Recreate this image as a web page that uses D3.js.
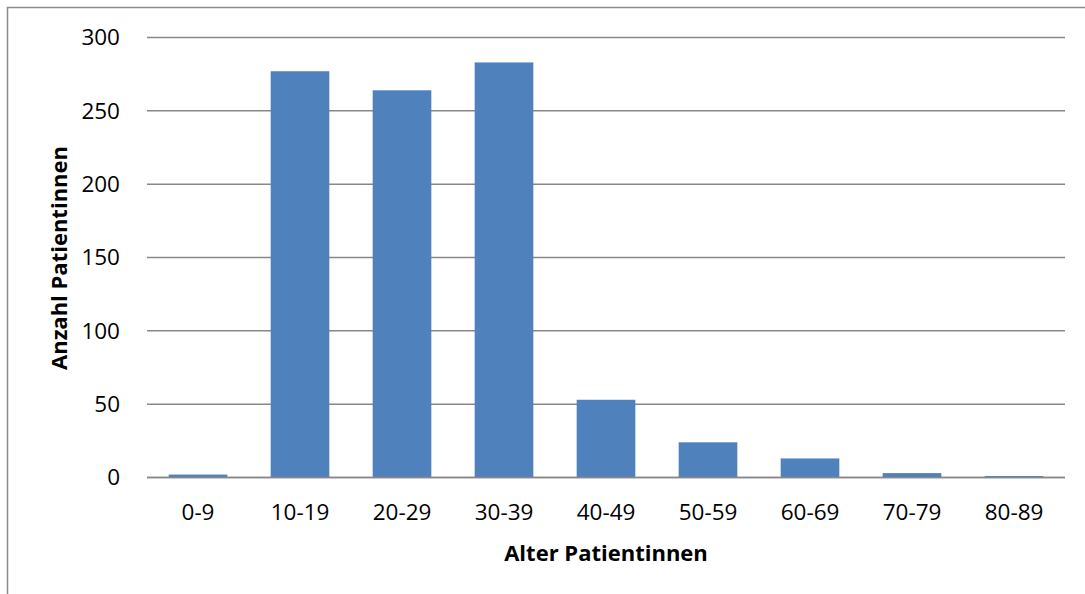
<!DOCTYPE html>
<html>
<head>
<meta charset="utf-8">
<script src="https://cdn.jsdelivr.net/npm/d3@7/dist/d3.min.js"></script>
<style>
  html, body { margin: 0; padding: 0; background: #fff; }
  svg { display: block; }
  text { font-family: "Open Sans", "Liberation Sans", sans-serif; fill: #000; }
</style>
</head>
<body>
<svg id="chart" width="1085" height="594"></svg>
<script>
// Age groups of the patients and the number of patients in each
const categories = ["0-9", "10-19", "20-29", "30-39", "40-49", "50-59", "60-69", "70-79", "80-89"];
const counts = [2, 277, 264, 283, 53, 24, 13, 3, 1];
const yTicks = [0, 50, 100, 150, 200, 250, 300];
const xTitle = "Alter Patientinnen";
const yTitle = "Anzahl Patientinnen";

const plot = { left: 147, right: 1065, top: 37.5, bottom: 477.5 };
const tickFont = 22.5;

const svg = d3.select("#chart");

// outer frame of the chart area
svg.append("rect")
  .attr("x", 7.5).attr("y", 7.5)
  .attr("width", 1200).attr("height", 800)
  .attr("fill", "none").attr("stroke", "#8c8c8c").attr("stroke-width", 1.5);

const x = d3.scaleBand()
  .domain(categories)
  .range([plot.left, plot.right])
  .paddingInner(0.425)
  .paddingOuter(0.2125);

const y = d3.scaleLinear()
  .domain([0, 300])
  .range([plot.bottom, plot.top]);

// horizontal gridlines
svg.append("g")
  .selectAll("line")
  .data(yTicks)
  .join("line")
  .attr("x1", plot.left).attr("x2", plot.right)
  .attr("y1", d => y(d)).attr("y2", d => y(d))
  .attr("stroke", "#888").attr("stroke-width", 1.5);

// bars
svg.append("g")
  .selectAll("rect")
  .data(categories)
  .join("rect")
  .attr("x", d => x(d))
  .attr("width", x.bandwidth())
  .attr("y", (d, i) => y(counts[i]))
  .attr("height", (d, i) => y(0) - y(counts[i]))
  .attr("fill", "#4f81bd");

// baseline redrawn on top of bars
svg.append("line")
  .attr("x1", plot.left).attr("x2", plot.right)
  .attr("y1", y(0)).attr("y2", y(0))
  .attr("stroke", "#888").attr("stroke-width", 1.5);

// y axis labels
const yAxis = d3.axisLeft(y).tickValues(yTicks).tickSize(0).tickPadding(0);
const gy = svg.append("g")
  .attr("transform", `translate(${plot.left - 27},0)`)
  .call(yAxis);
gy.select(".domain").remove();
gy.selectAll("text")
  .attr("font-size", tickFont)
  .attr("font-family", "Open Sans, sans-serif")
  .attr("fill", "#000");

// x axis labels
const xAxis = d3.axisBottom(x).tickSize(0).tickPadding(0);
const gx = svg.append("g")
  .attr("transform", `translate(0,${plot.bottom + 26.5})`)
  .call(xAxis);
gx.select(".domain").remove();
gx.selectAll("text")
  .attr("font-size", tickFont)
  .attr("font-family", "Open Sans, sans-serif")
  .attr("fill", "#000");

// axis titles
svg.append("text")
  .attr("x", 606)
  .attr("y", 561)
  .attr("text-anchor", "middle")
  .attr("font-size", 22)
  .attr("font-weight", "bold")
  .text(xTitle);

svg.append("text")
  .attr("transform", `translate(67,258) rotate(-90)`)
  .attr("text-anchor", "middle")
  .attr("font-size", 22)
  .attr("font-weight", "bold")
  .text(yTitle);
</script>
</body>
</html>
